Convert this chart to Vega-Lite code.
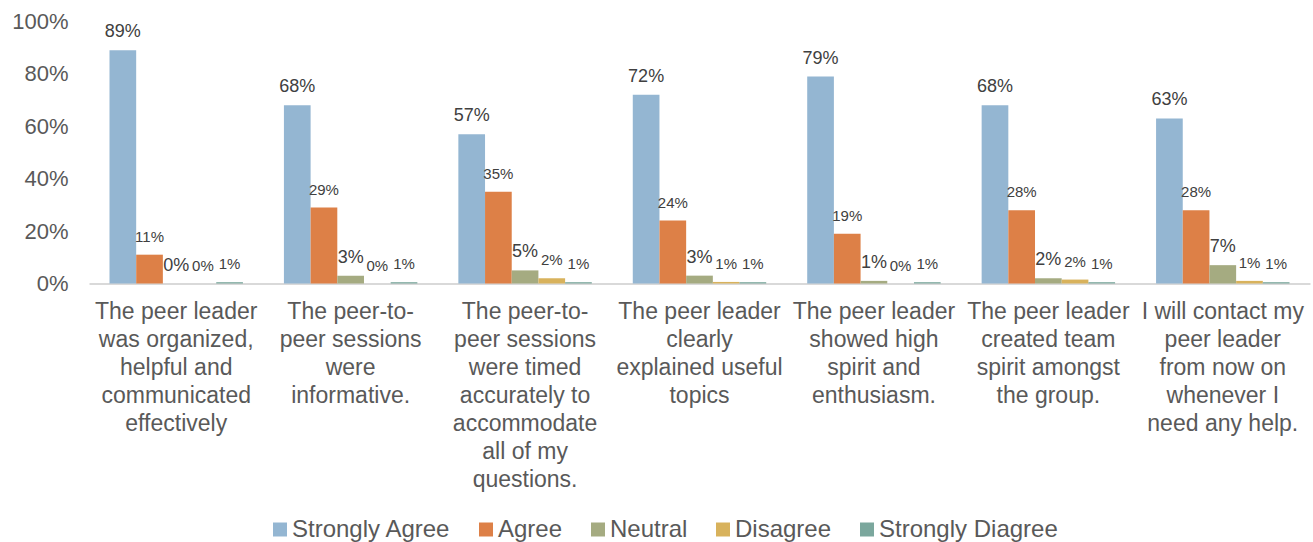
{
  "$schema": "https://vega.github.io/schema/vega-lite/v6.json",
  "width": 1221,
  "height": 262,
  "autosize": {"type": "none"},
  "padding": {"left": 89, "top": 21.5, "right": 3, "bottom": 258.5},
  "background": "white",
  "config": {"view": {"stroke": null}, "font": "Liberation Sans"},
  "data": {
    "values": [
      {"statement": "The peer leader\nwas organized,\nhelpful and\ncommunicated\neffectively", "response": "Strongly Agree", "pct": 0.89},
      {"statement": "The peer leader\nwas organized,\nhelpful and\ncommunicated\neffectively", "response": "Agree", "pct": 0.11},
      {"statement": "The peer leader\nwas organized,\nhelpful and\ncommunicated\neffectively", "response": "Neutral", "pct": 0.0},
      {"statement": "The peer leader\nwas organized,\nhelpful and\ncommunicated\neffectively", "response": "Disagree", "pct": 0.0},
      {"statement": "The peer leader\nwas organized,\nhelpful and\ncommunicated\neffectively", "response": "Strongly Diagree", "pct": 0.005},
      {"statement": "The peer-to-\npeer sessions\nwere\ninformative.", "response": "Strongly Agree", "pct": 0.68},
      {"statement": "The peer-to-\npeer sessions\nwere\ninformative.", "response": "Agree", "pct": 0.29},
      {"statement": "The peer-to-\npeer sessions\nwere\ninformative.", "response": "Neutral", "pct": 0.03},
      {"statement": "The peer-to-\npeer sessions\nwere\ninformative.", "response": "Disagree", "pct": 0.0},
      {"statement": "The peer-to-\npeer sessions\nwere\ninformative.", "response": "Strongly Diagree", "pct": 0.005},
      {"statement": "The peer-to-\npeer sessions\nwere timed\naccurately to\naccommodate\nall of my\nquestions.", "response": "Strongly Agree", "pct": 0.57},
      {"statement": "The peer-to-\npeer sessions\nwere timed\naccurately to\naccommodate\nall of my\nquestions.", "response": "Agree", "pct": 0.35},
      {"statement": "The peer-to-\npeer sessions\nwere timed\naccurately to\naccommodate\nall of my\nquestions.", "response": "Neutral", "pct": 0.05},
      {"statement": "The peer-to-\npeer sessions\nwere timed\naccurately to\naccommodate\nall of my\nquestions.", "response": "Disagree", "pct": 0.02},
      {"statement": "The peer-to-\npeer sessions\nwere timed\naccurately to\naccommodate\nall of my\nquestions.", "response": "Strongly Diagree", "pct": 0.005},
      {"statement": "The peer leader\nclearly\nexplained useful\ntopics", "response": "Strongly Agree", "pct": 0.72},
      {"statement": "The peer leader\nclearly\nexplained useful\ntopics", "response": "Agree", "pct": 0.24},
      {"statement": "The peer leader\nclearly\nexplained useful\ntopics", "response": "Neutral", "pct": 0.03},
      {"statement": "The peer leader\nclearly\nexplained useful\ntopics", "response": "Disagree", "pct": 0.006},
      {"statement": "The peer leader\nclearly\nexplained useful\ntopics", "response": "Strongly Diagree", "pct": 0.005},
      {"statement": "The peer leader\nshowed high\nspirit and\nenthusiasm.", "response": "Strongly Agree", "pct": 0.79},
      {"statement": "The peer leader\nshowed high\nspirit and\nenthusiasm.", "response": "Agree", "pct": 0.19},
      {"statement": "The peer leader\nshowed high\nspirit and\nenthusiasm.", "response": "Neutral", "pct": 0.01},
      {"statement": "The peer leader\nshowed high\nspirit and\nenthusiasm.", "response": "Disagree", "pct": 0.0},
      {"statement": "The peer leader\nshowed high\nspirit and\nenthusiasm.", "response": "Strongly Diagree", "pct": 0.005},
      {"statement": "The peer leader\ncreated team\nspirit amongst\nthe group.", "response": "Strongly Agree", "pct": 0.68},
      {"statement": "The peer leader\ncreated team\nspirit amongst\nthe group.", "response": "Agree", "pct": 0.28},
      {"statement": "The peer leader\ncreated team\nspirit amongst\nthe group.", "response": "Neutral", "pct": 0.02},
      {"statement": "The peer leader\ncreated team\nspirit amongst\nthe group.", "response": "Disagree", "pct": 0.015},
      {"statement": "The peer leader\ncreated team\nspirit amongst\nthe group.", "response": "Strongly Diagree", "pct": 0.005},
      {"statement": "I will contact my\npeer leader\nfrom now on\nwhenever I\nneed any help.", "response": "Strongly Agree", "pct": 0.63},
      {"statement": "I will contact my\npeer leader\nfrom now on\nwhenever I\nneed any help.", "response": "Agree", "pct": 0.28},
      {"statement": "I will contact my\npeer leader\nfrom now on\nwhenever I\nneed any help.", "response": "Neutral", "pct": 0.07},
      {"statement": "I will contact my\npeer leader\nfrom now on\nwhenever I\nneed any help.", "response": "Disagree", "pct": 0.01},
      {"statement": "I will contact my\npeer leader\nfrom now on\nwhenever I\nneed any help.", "response": "Strongly Diagree", "pct": 0.005}
    ]
  },
  "encoding": {
    "x": {
      "field": "statement",
      "type": "nominal",
      "sort": null,
      "scale": {"paddingInner": 0.235, "paddingOuter": 0.1175},
      "axis": {
        "title": null,
        "labelAngle": 0,
        "labelFontSize": 23,
        "labelColor": "#595959",
        "labelLineHeight": 28,
        "labelBaseline": "top",
        "labelPadding": 17,
        "labelLimit": 0,
        "labelOverlap": false,
        "ticks": false,
        "domainColor": "#d9d9d9",
        "domainWidth": 2,
        "labelExpr": "split(datum.label, '\\n')"
      }
    },
    "xOffset": {
      "field": "response",
      "type": "nominal",
      "scale": {"domain": ["Strongly Agree", "Agree", "Neutral", "Disagree", "Strongly Diagree"], "paddingInner": 0, "paddingOuter": 0}
    },
    "y": {
      "field": "pct",
      "type": "quantitative",
      "scale": {"domain": [0, 1]},
      "axis": {
        "title": null,
        "format": ".0%",
        "values": [0, 0.2, 0.4, 0.6, 0.8, 1],
        "grid": false,
        "domain": false,
        "ticks": false,
        "labelFontSize": 22,
        "labelColor": "#595959",
        "labelPadding": 21
      }
    }
  },
  "layer": [
    {
      "mark": {"type": "bar"},
      "encoding": {
        "color": {
          "field": "response",
          "type": "nominal",
          "scale": {
            "domain": ["Strongly Agree", "Agree", "Neutral", "Disagree", "Strongly Diagree"],
            "range": ["#94b6d2", "#dd8047", "#a5ab81", "#d8b25c", "#7ba79d"]
          },
          "legend": {
            "orient": "none",
            "legendX": 179,
            "legendY": 496,
            "direction": "horizontal",
            "title": null,
            "symbolType": "square",
            "symbolSize": 196,
            "symbolStrokeWidth": 0,
            "labelFontSize": 24,
            "labelColor": "#595959",
            "labelLimit": 0,
            "columnPadding": 23,
            "labelOffset": 0
          }
        }
      }
    },
    {
      "transform": [{"filter": "datum.response == 'Strongly Agree' || datum.response == 'Neutral'"}],
      "mark": {"type": "text", "fontSize": 18, "dy": -13, "baseline": "alphabetic", "color": "#404040"},
      "encoding": {"text": {"field": "pct", "type": "quantitative", "format": ".0%"}}
    },
    {
      "transform": [{"filter": "datum.response != 'Strongly Agree' && datum.response != 'Neutral'"}],
      "mark": {"type": "text", "fontSize": 15, "dy": -13, "baseline": "alphabetic", "color": "#404040"},
      "encoding": {"text": {"field": "pct", "type": "quantitative", "format": ".0%"}}
    }
  ]
}
